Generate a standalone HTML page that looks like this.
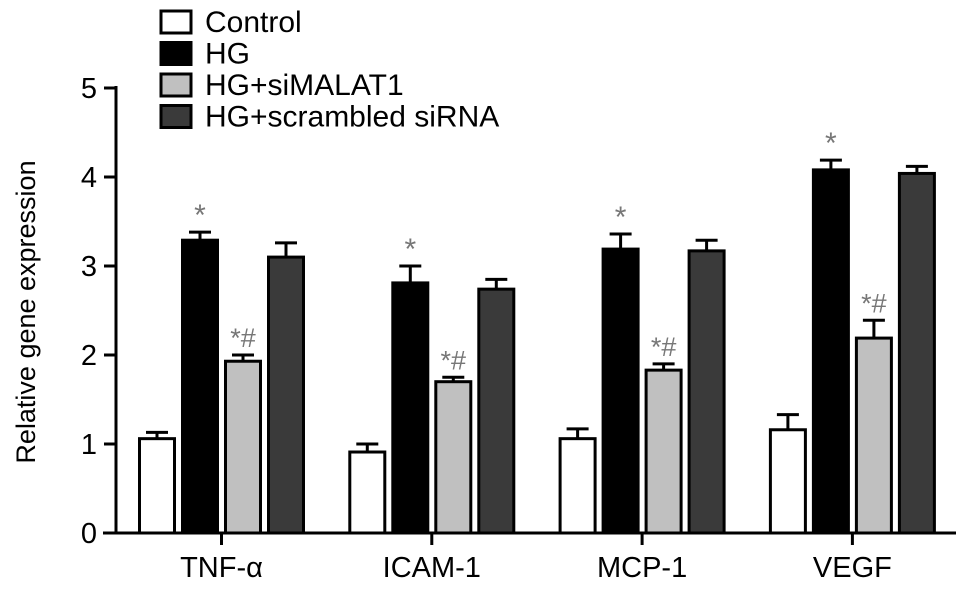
<!DOCTYPE html>
<html><head><meta charset="utf-8"><style>
body{margin:0;background:#fff}
svg text{font-family:"Liberation Sans",sans-serif}
</style></head><body>
<svg id="c" width="969" height="593" viewBox="0 0 969 593">
<g id="leg"></g>
<g id="ax"></g>
<g id="bars"></g>
</svg>
<script>
const categories=["TNF-\u03b1","ICAM-1","MCP-1","VEGF"];
const seriesNames=["Control","HG","HG+siMALAT1","HG+scrambled siRNA"];
const control=[1.06,0.91,1.06,1.16];
const controlErr=[0.07,0.09,0.11,0.17];
const hg=[3.29,2.81,3.19,4.08];
const hgErr=[0.09,0.19,0.17,0.11];
const si=[1.93,1.70,1.83,2.19];
const siErr=[0.07,0.05,0.07,0.20];
const scr=[3.10,2.74,3.17,4.04];
const scrErr=[0.16,0.11,0.12,0.08];
const hgMarks=["*","*","*","*"];
const siMarks=["*#","*#","*#","*#"];
const yTicks=[0,1,2,3,4,5];
const NS="http://www.w3.org/2000/svg";
function y(v){return 533-v*89;}
function xc(i){return 221.5+i*210.3;}
function mk(p,t,a){const e=document.createElementNS(NS,t);for(const k in a)e.setAttribute(k,a[k]);p.appendChild(e);return e;}
const ax=document.getElementById('ax'),bars=document.getElementById('bars'),leg=document.getElementById('leg');
let l=mk(ax,'line',{x1:116,y1:86,x2:116,y2:534,stroke:'#000','stroke-width':3});

l=mk(ax,'line',{x1:103,y1:533,x2:956,y2:533,stroke:'#000','stroke-width':3});

yTicks.forEach(v=>{
 let t=mk(ax,'line',{x1:104,y1:y(v),x2:116,y2:y(v),stroke:'#000','stroke-width':3});
 
 let tx=mk(ax,'text',{x:97,y:y(v)+10,'text-anchor':'end','font-size':29});tx.textContent=v;
 
});
let yt=mk(ax,'text',{x:0,y:0,'text-anchor':'middle','font-size':27,transform:'translate(35,312) rotate(-90)'});
yt.textContent='Relative gene expression';

const series=[[control,controlErr,'#fff'],[hg,hgErr,'#000'],[si,siErr,'#c0c0c0'],[scr,scrErr,'#3a3a3a']];
const offs=[-64.5,-21.5,21.5,64.5];
categories.forEach((c,i)=>{
 let t=mk(ax,'line',{x1:xc(i),y1:533,x2:xc(i),y2:545,stroke:'#000','stroke-width':3});
 
 let tx=mk(ax,'text',{x:xc(i),y:577,'text-anchor':'middle','font-size':29});tx.textContent=c;
 
 series.forEach((s,j)=>{
  const cx=xc(i)+offs[j],v=s[0][i],e=s[1][i];
  let g=mk(bars,'g',{});
  
  mk(g,'line',{x1:cx,y1:y(v),x2:cx,y2:y(v+e),stroke:'#000','stroke-width':3});
  mk(g,'line',{x1:cx-11,y1:y(v+e),x2:cx+11,y2:y(v+e),stroke:'#000','stroke-width':3});
  mk(g,'rect',{x:cx-17.5,y:y(v),width:35,height:y(0)-y(v),fill:s[2],stroke:'#000','stroke-width':3});
  const m=j==1?hgMarks[i]:j==2?siMarks[i]:null;
  if(m){let a=mk(g,'text',{x:cx,y:y(v+e)+(j==1?-7:-8),'text-anchor':'middle','font-size':j==1?30:27,fill:'#777','font-family':'Liberation Serif'});a.textContent=m;
   }
 });
});
const lc=['#fff','#000','#c0c0c0','#3a3a3a'];
seriesNames.forEach((n,j)=>{
 let g=mk(leg,'g',{});
 
 const yy=22+j*31.5;
 mk(g,'rect',{x:161,y:yy-11,width:30,height:22,fill:lc[j],stroke:'#000','stroke-width':3});
 let t=mk(g,'text',{x:205,y:yy+10,'font-size':30});t.textContent=n;
});
</script>
</body></html>
